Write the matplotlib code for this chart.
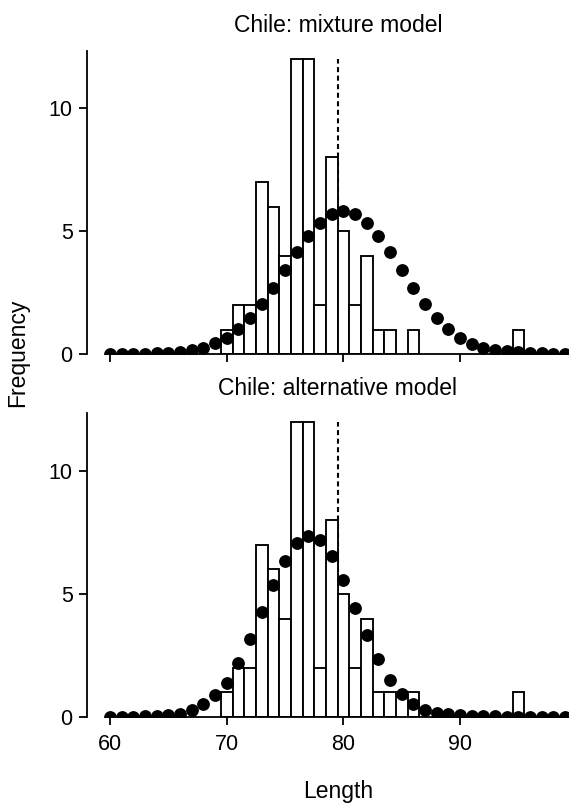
import matplotlib
matplotlib.use("Agg")
import matplotlib.pyplot as plt
import numpy as np

plt.rcParams['font.family'] = ['Liberation Sans', 'DejaVu Sans']

# ---- data ----
length_pts = list(range(60, 100))
mixture_fit = [0.01, 0.015, 0.02, 0.03, 0.05, 0.07, 0.11, 0.17, 0.26, 0.45,
               0.68, 1.04, 1.49, 2.05, 2.70, 3.42, 4.15, 4.81, 5.35, 5.70,
               5.84, 5.70, 5.35, 4.81, 4.15, 3.42, 2.71, 2.03, 1.49, 1.02,
               0.66, 0.43, 0.24, 0.16, 0.12, 0.09, 0.06, 0.04, 0.02, 0.01]
alternative_fit = [0.01, 0.01, 0.02, 0.03, 0.04, 0.07, 0.14, 0.27, 0.51, 0.88,
                   1.39, 2.19, 3.15, 4.26, 5.38, 6.35, 7.08, 7.36, 7.18, 6.53,
                   5.55, 4.42, 3.31, 2.34, 1.51, 0.92, 0.52, 0.27, 0.16, 0.11,
                   0.07, 0.05, 0.04, 0.03, 0.02, 0.02, 0.01, 0.01, 0.01, 0.01]
bin_centers = [70, 71, 72, 73, 74, 75, 76, 77, 78, 79, 80, 81, 82, 83, 84, 86, 95]
bin_counts = [1, 2, 2, 7, 6, 4, 12, 12, 2, 8, 5, 2, 4, 1, 1, 1, 1]
cutoff = 79.5
cutoff_top = 12
x_ticks = [60, 70, 80, 90]
y_ticks = [0, 5, 10]
titles = ["Chile: mixture model", "Chile: alternative model"]

W, H = 569, 805
fig = plt.figure(figsize=(W / 100, H / 100), dpi=100)

def fx(px):
    return px / W

def fy(py):
    return 1 - py / H

left = fx(86.7)
ax_h = (354.3 - 50.7) / H
axes_pos = [(left, fy(354.3), 1 - left, ax_h),
            (left, fy(717.0), 1 - left, ax_h)]

fits = [mixture_fit, alternative_fit]
lw = 1.3
for i, (pos, fit) in enumerate(zip(axes_pos, fits)):
    ax = fig.add_axes(pos)
    ax.set_xlim(58, 99.34)
    ax.set_ylim(0, 12.33)
    ax.vlines(cutoff, 0, cutoff_top, colors='black', linewidth=1.5,
              linestyles=(0, (2.4, 1.7)), zorder=1)
    ax.bar(bin_centers, bin_counts, width=1.0, facecolor='white',
           edgecolor='black', linewidth=1.35, zorder=2)
    ax.plot(length_pts, fit, 'o', color='black', markersize=8.2, zorder=3)
    for s in ['top', 'right']:
        ax.spines[s].set_visible(False)
    for s in ['left', 'bottom']:
        ax.spines[s].set_linewidth(lw)
    ax.spines['bottom'].set_bounds(60, 99.34)
    ax.set_xticks(x_ticks)
    ax.set_yticks(y_ticks)
    ax.tick_params(axis='both', direction='out', length=5.8, width=lw,
                   labelsize=15.5, color='black')
    ax.tick_params(axis='y', pad=4.3)
    ax.tick_params(axis='x', pad=6.5)
    if i == 0:
        ax.set_xticklabels([])

fig.text(fx(338), fy(31.7), titles[0], ha='center', va='baseline', fontsize=16.5)
fig.text(fx(337.5), fy(395), titles[1], ha='center', va='baseline', fontsize=16.5)
fig.text(fx(18), fy(353), "Frequency", ha='center', va='center', rotation=90,
         fontsize=16.5)
fig.text(fx(338), fy(798), "Length", ha='center', va='baseline', fontsize=16.5)

fig.savefig("out.png", dpi=100)
